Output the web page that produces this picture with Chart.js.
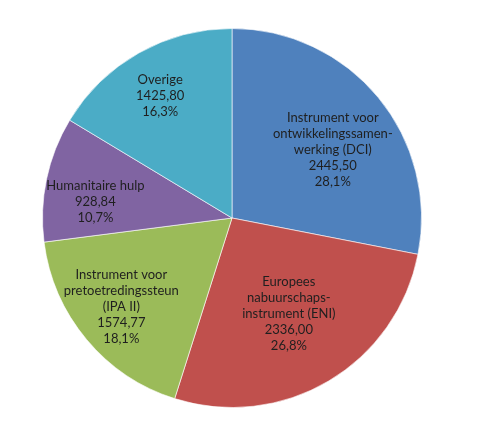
<!DOCTYPE html>
<html>
<head>
<meta charset="utf-8">
<script src="https://cdn.jsdelivr.net/npm/chart.js@4"></script>
<style>
  html, body { margin: 0; padding: 0; background: #fff; }
  #wrap { width: 481px; height: 433px; }
</style>
</head>
<body>
<div id="wrap"><canvas id="pie" width="481" height="433"></canvas></div>
<script>
// data (mln euro)
const labels = [
    ['Instrument voor', 'ontwikkelingssamen-', 'werking (DCI)'],
    ['Europees', 'nabuurschaps-', 'instrument (ENI)'],
    ['Instrument voor', 'pretoetredingssteun', '(IPA II)'],
    ['Humanitaire hulp'],
    ['Overige']
];
const amounts = [2445.50, 2336.00, 1574.77, 928.84, 1425.80];
const percents = [28.1, 26.8, 18.1, 10.7, 16.3];

const colors = ['#4F81BD', '#C0504D', '#9BBB59', '#8064A2', '#4BACC6'];

// where each label sits, as a fraction of the radius from the centre
const labelOffset = [
    [0.532, -0.361],
    [0.300, 0.505],
    [-0.584, 0.471],
    [-0.721, -0.084],
    [-0.379, -0.647]
];

const nl = v => v.toFixed(2).replace('.', ',');

const sliceLabels = {
    id: 'sliceLabels',
    afterDatasetsDraw(chart) {
        const ctx = chart.ctx;
        const meta = chart.getDatasetMeta(0);
        ctx.save();
        ctx.font = '13px Lato, "DejaVu Sans", sans-serif';
        ctx.fillStyle = '#1f1f1f';
        ctx.textAlign = 'center';
        ctx.textBaseline = 'middle';
        meta.data.forEach((arc, i) => {
            const lines = labels[i].concat([nl(amounts[i]), percents[i].toFixed(1).replace('.', ',') + '%']);
            const cx = arc.x + labelOffset[i][0] * arc.outerRadius;
            const cy = arc.y + labelOffset[i][1] * arc.outerRadius;
            const lh = 16;
            const top = cy - (lines.length - 1) * lh / 2;
            lines.forEach((t, k) => ctx.fillText(t, cx, top + k * lh));
        });
        ctx.restore();
    }
};

new Chart(document.getElementById('pie'), {
    type: 'pie',
    data: {
        labels: labels.map(l => l.join(' ')),
        datasets: [{
            data: amounts,
            backgroundColor: colors,
            borderColor: 'rgba(255,255,255,0.6)',
            borderWidth: 1
        }]
    },
    options: {
        responsive: false,
        animation: false,
        layout: {
            padding: { left: 42, right: 59, top: 28, bottom: 25 }
        },
        plugins: {
            legend: { display: false },
            tooltip: { enabled: false }
        }
    },
    plugins: [sliceLabels]
});
</script>
</body>
</html>
